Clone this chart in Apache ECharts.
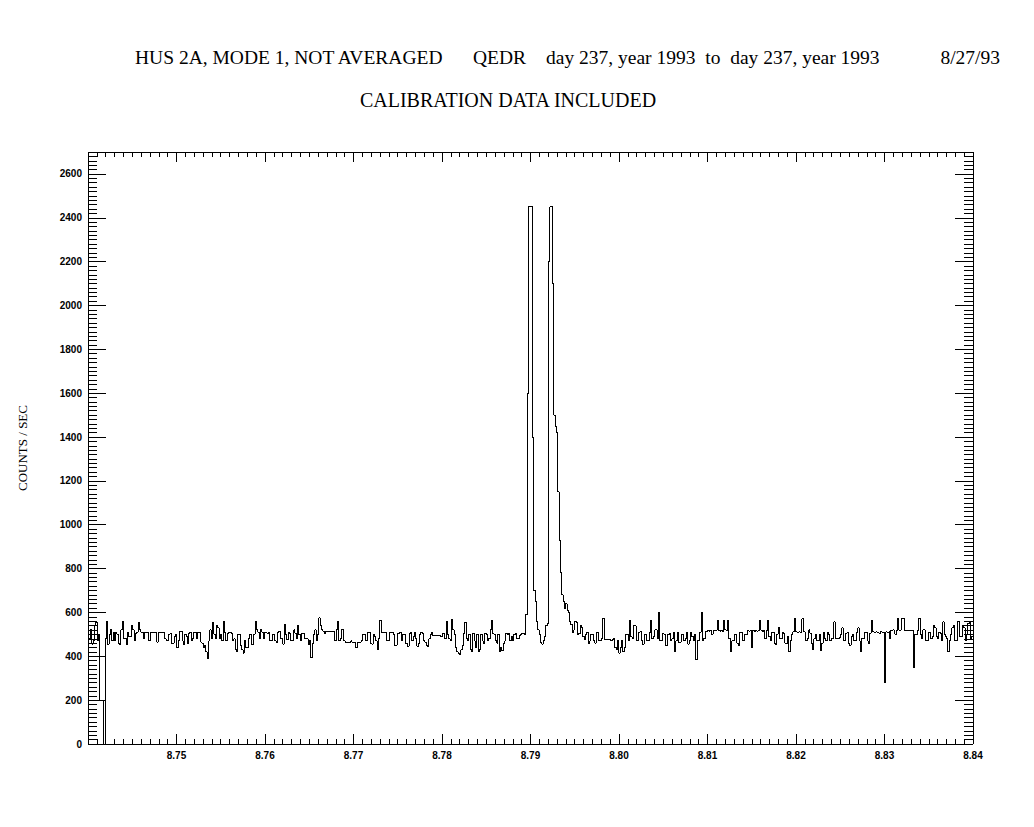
<!DOCTYPE html>
<html>
<head>
<meta charset="utf-8">
<script src="https://cdn.jsdelivr.net/npm/echarts@6/dist/echarts.min.js"></script>
<style>
html,body{margin:0;padding:0;background:#fff;}
#chart{width:1034px;height:827px;}
#chart svg path{shape-rendering:crispEdges;}
</style>
</head>
<body>
<div id="chart"></div>
<script>
// ---- data ----
const TITLE_1A = 'HUS 2A, MODE 1, NOT AVERAGED';
const TITLE_1B = 'QEDR';
const TITLE_1C = 'day 237, year 1993  to  day 237, year 1993';
const TITLE_1D = '8/27/93';
const TITLE_2 = 'CALIBRATION DATA INCLUDED';
const Y_NAME = 'COUNTS / SEC';

const X_MIN = 8.74, X_MAX = 8.84, X_STEP = 0.01;
const Y_MIN = 0, Y_MAX = 2700, Y_STEP = 200;

// sample times: first sample and sampling step
const T0 = 8.74005;
const DT = 0.00015;

// counts per second, one value per sample
const COUNTS = [
  430,480,520,455,470,540,555,470,500,200,200,200,0,480,560,455,500,520,470,510,
  470,510,500,460,455,520,560,480,480,455,510,490,490,540,520,470,505,510,555,520,
  510,510,480,510,510,510,470,510,510,510,510,510,465,510,510,510,510,510,480,470,
  470,500,505,460,460,490,500,440,470,515,515,470,455,500,490,460,505,510,470,480,
  510,510,480,510,510,465,460,440,450,420,390,470,520,480,555,500,480,540,530,480,
  500,470,560,510,470,505,510,510,505,470,480,430,420,500,500,450,430,415,470,440,
  440,480,500,455,455,500,560,520,510,480,520,510,480,510,510,505,510,470,470,500,
  500,470,465,510,515,480,480,455,545,500,475,510,505,470,470,520,505,480,540,500,
  470,505,505,480,480,480,455,470,395,460,500,520,470,500,575,540,520,515,505,515,
  515,515,515,515,515,515,470,520,560,470,480,520,520,470,465,465,465,465,470,465,
  465,465,440,465,465,465,470,500,500,470,470,510,510,460,455,500,490,470,430,480,
  565,510,510,510,510,470,470,510,510,510,500,450,450,505,505,510,470,500,500,460,
  460,445,505,510,470,490,510,480,445,460,500,510,505,470,465,450,445,480,500,510,
  495,495,495,495,495,495,490,505,505,480,560,500,480,470,570,520,500,440,420,415,
  410,430,450,505,555,480,470,500,430,420,505,470,440,500,420,430,500,470,460,505,
  500,470,480,520,565,505,500,470,460,500,420,440,425,460,470,505,500,505,470,490,
  470,500,505,480,480,495,500,505,505,500,590,1600,2450,2450,2450,1400,700,650,560,520,
  500,465,455,470,490,540,550,2200,2450,2450,2100,1500,1450,1420,1150,930,780,680,650,620,
  640,610,600,560,545,510,520,560,555,500,505,540,530,490,475,500,510,460,470,500,
  500,470,460,510,510,470,470,480,572,475,475,475,475,475,470,475,480,440,430,470,
  415,440,470,420,440,500,500,470,565,490,480,540,540,470,470,510,515,470,455,500,
  500,470,470,510,565,480,490,520,520,480,600,470,470,505,500,450,450,500,505,470,
  480,510,420,470,510,465,465,500,500,470,480,510,455,470,510,490,470,500,385,470,
  470,510,600,470,480,515,515,519,515,519,500,519,519,519,565,519,515,519,515,565,
  520,519,565,480,420,470,470,500,500,460,450,510,510,470,470,500,500,519,515,519,
  440,519,515,519,515,519,565,519,515,519,480,519,565,490,470,510,510,460,455,500,
  530,480,480,510,505,460,460,490,420,470,500,511,572,511,510,511,510,511,572,511,
  510,470,480,520,505,460,430,480,500,470,470,500,425,460,510,480,470,510,500,470,
  480,481,557,481,480,481,485,500,530,470,470,505,510,460,450,490,500,470,470,510,
  530,470,420,480,480,510,510,470,460,505,565,511,510,511,510,511,505,511,510,511,
  280,511,510,511,480,519,520,519,500,519,572,519,520,572,572,519,519,519,519,519,
  519,519,350,500,500,519,572,500,480,520,520,470,470,510,510,480,490,540,530,490,
  480,510,505,470,557,500,490,480,420,470,500,530,540,470,470,560,560,490,490,540,
  530,470,500,550,555,480,490,520
];

// short flat trace at the start of the record
const START_TIMES = [8.7400, 8.7418];
const START_COUNTS = [400, 400];

// ---- chart ----
const mainData = COUNTS.map((v, i) => [T0 + i * DT, v]);
const startData = START_TIMES.map((t, i) => [t, START_COUNTS[i]]);

const chart = echarts.init(document.getElementById('chart'), null, {renderer: 'svg'});

const black = '#000';
const labelFont = {color: black, fontSize: 10, fontWeight: 'bold', fontFamily: 'Liberation Sans, Arial, sans-serif'};

function xAxisDef(pos, showLabels) {
  return {
    type: 'value', position: pos, min: X_MIN, max: X_MAX, interval: X_STEP,
    axisLine: {show: true, onZero: false, lineStyle: {color: black, width: 1}},
    axisTick: {show: true, inside: true, length: 10, lineStyle: {color: black, width: 1}},
    minorTick: {show: true, splitNumber: 10, length: 5, lineStyle: {color: black, width: 1}},
    splitLine: {show: false}, minorSplitLine: {show: false},
    axisLabel: Object.assign({
      show: showLabels, margin: 6,
      formatter: v => (Math.abs(v - X_MIN) < 1e-6 ? '' : v.toFixed(2))
    }, labelFont)
  };
}
function yAxisDef(pos, showLabels) {
  return {
    type: 'value', position: pos, min: Y_MIN, max: Y_MAX, interval: Y_STEP,
    axisLine: {show: true, onZero: false, lineStyle: {color: black, width: 1}},
    axisTick: {show: true, inside: true, length: 18, lineStyle: {color: black, width: 1}},
    minorTick: {show: true, splitNumber: 10, length: 9, lineStyle: {color: black, width: 1}},
    splitLine: {show: false}, minorSplitLine: {show: false},
    axisLabel: Object.assign({
      show: showLabels, margin: 6,
      formatter: v => (v % Y_STEP === 0 ? String(v) : '')
    }, labelFont)
  };
}

const serif = 'Liberation Serif, Times New Roman, serif';
const titleFont1 = '19.5px ' + serif;
const titleFont2 = '20px ' + serif;

chart.setOption({
  animation: false,
  backgroundColor: '#fff',
  grid: {left: 88, right: 61, top: 152, bottom: 83, containLabel: false},
  xAxis: [xAxisDef('bottom', true), xAxisDef('top', false)],
  yAxis: [yAxisDef('left', true), yAxisDef('right', false)],
  graphic: [
    {type: 'text', x: 135, y: 57, style: {text: TITLE_1A, font: titleFont1, fill: black, textAlign: 'left', textVerticalAlign: 'middle'}},
    {type: 'text', x: 473, y: 57, style: {text: TITLE_1B, font: titleFont1, fill: black, textAlign: 'left', textVerticalAlign: 'middle'}},
    {type: 'text', x: 546, y: 57, style: {text: TITLE_1C, font: titleFont1, fill: black, textAlign: 'left', textVerticalAlign: 'middle'}},
    {type: 'text', x: 1000, y: 57, style: {text: TITLE_1D, font: titleFont1, fill: black, textAlign: 'right', textVerticalAlign: 'middle'}},
    {type: 'text', x: 508, y: 100, style: {text: TITLE_2, font: titleFont2, fill: black, textAlign: 'center', textVerticalAlign: 'middle'}},
    {type: 'text', x: 22, y: 448, rotation: Math.PI / 2, style: {text: Y_NAME, font: '13px ' + serif, fill: black, textAlign: 'center', textVerticalAlign: 'middle'}}
  ],
  series: [
    {
      type: 'line', xAxisIndex: 0, yAxisIndex: 0, data: mainData,
      step: 'middle', showSymbol: false, symbol: 'none',
      lineStyle: {color: black, width: 1}, clip: true
    },
    {
      type: 'line', xAxisIndex: 0, yAxisIndex: 0, data: startData,
      showSymbol: false, symbol: 'none',
      lineStyle: {color: black, width: 1}, clip: true
    }
  ]
});
</script>
</body>
</html>
